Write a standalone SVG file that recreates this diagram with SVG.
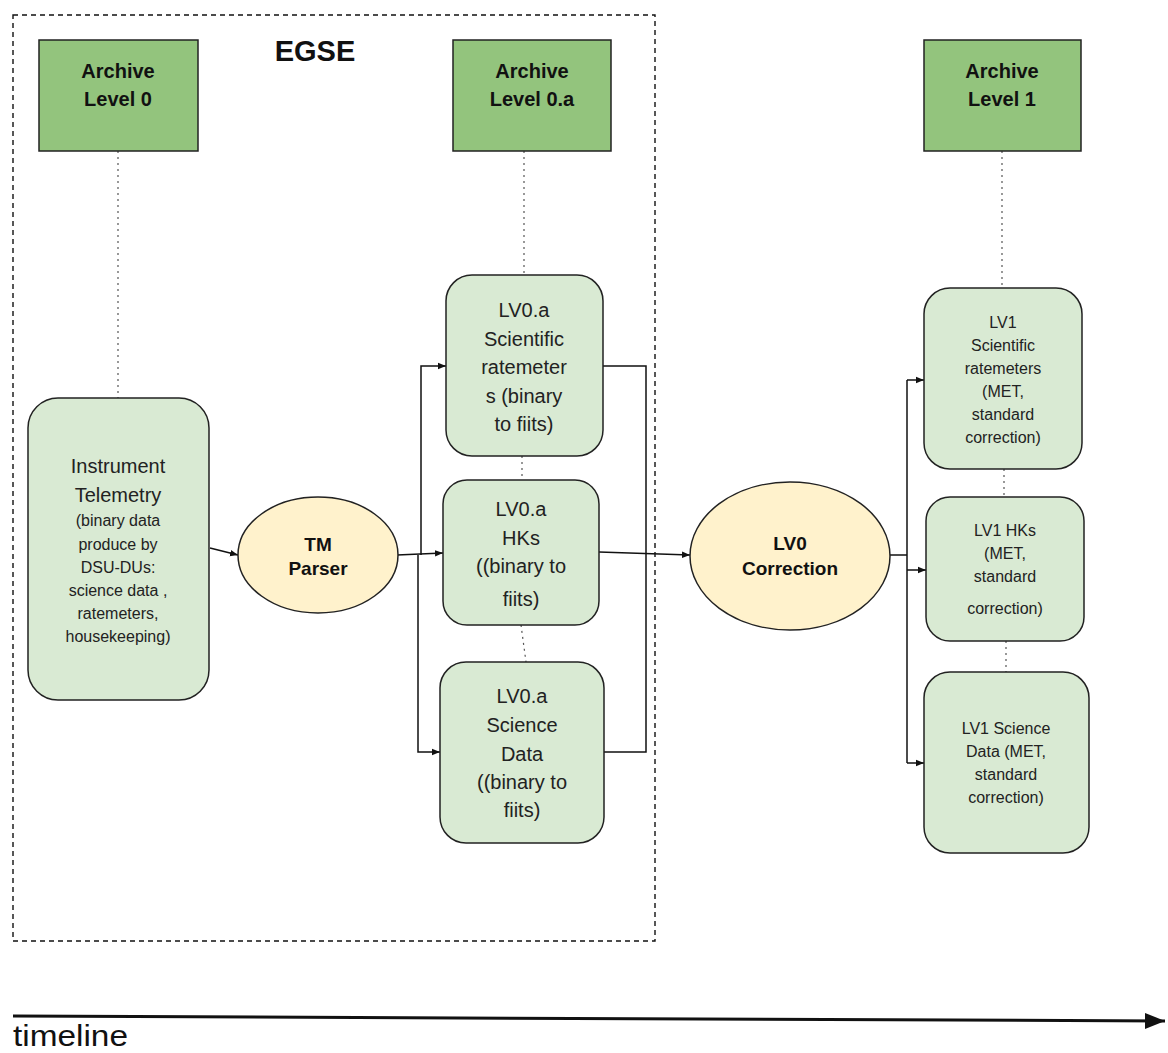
<svg xmlns="http://www.w3.org/2000/svg" width="1168" height="1053" viewBox="0 0 1168 1053">
<style>
text{font-family:"Liberation Sans",Arial,sans-serif;fill:#222;text-anchor:middle}
.arch{fill:#93c47d;stroke:#222;stroke-width:1.5}
.arch-t{font-weight:bold;font-size:20px;fill:#111}
.box{fill:#d9ead3;stroke:#222;stroke-width:1.5}
.proc{fill:#fff2cc;stroke:#222;stroke-width:1.5}
.proc-t{font-weight:bold;font-size:19px;fill:#111}
.big{font-size:20px}
.sm{font-size:16px}
.conn{fill:none;stroke:#111;stroke-width:1.5}
.dot{fill:none;stroke:#555;stroke-width:1.2;stroke-dasharray:2 4}
</style>
<defs>
<marker id="ah" viewBox="0 0 10 10" refX="10" refY="5" markerWidth="8" markerHeight="8" markerUnits="userSpaceOnUse" orient="auto">
<path d="M0,1 L10,5 L0,9 z" fill="#111"/>
</marker>
<marker id="ah2" viewBox="0 0 10 10" refX="10" refY="5" markerWidth="20" markerHeight="20" markerUnits="userSpaceOnUse" orient="auto">
<path d="M0,1 L10,5 L0,9 z" fill="#111"/>
</marker>
</defs>
<rect width="1168" height="1053" fill="#fff"/>

<g id="egse">
<rect x="13" y="15" width="642" height="926" fill="none" stroke="#111" stroke-width="1.4" stroke-dasharray="5 4"/>
<text x="315" y="61" style="font-weight:bold;font-size:29px;fill:#111">EGSE</text>
</g>

<g id="connectors">
<path class="dot" d="M118,151 V398"/>
<path class="dot" d="M524,151 V275"/>
<path class="dot" d="M1002,151 V288"/>
<path class="dot" d="M522,456 V480"/>
<path class="dot" d="M521,625 L526,662"/>
<path class="dot" d="M1004,469 V497"/>
<path class="dot" d="M1006,641 V672"/>
<path class="conn" d="M210,548 L238,555" marker-end="url(#ah)"/>
<path class="conn" d="M397,555 L443,553" marker-end="url(#ah)"/>
<path class="conn" d="M421,555 V366 H446" marker-end="url(#ah)"/>
<path class="conn" d="M418,555 V752 H440" marker-end="url(#ah)"/>
<path class="conn" d="M603,366 H646 V752 H604"/>
<path class="conn" d="M599,552 L690,555" marker-end="url(#ah)"/>
<path class="conn" d="M890,555 H907"/>
<path class="conn" d="M907,380 V763"/>
<path class="conn" d="M907,380 H924" marker-end="url(#ah)"/>
<path class="conn" d="M907,570 H926" marker-end="url(#ah)"/>
<path class="conn" d="M907,763 H924" marker-end="url(#ah)"/>
<path d="M13,1016 L1165,1021" fill="none" stroke="#111" stroke-width="3" marker-end="url(#ah2)"/>
</g>

<g id="archive0">
<rect class="arch" x="39" y="40" width="159" height="111"/>
<text class="arch-t" x="118" y="78">Archive</text>
<text class="arch-t" x="118" y="106">Level 0</text>
</g>
<g id="archive0a">
<rect class="arch" x="453" y="40" width="158" height="111"/>
<text class="arch-t" x="532" y="78">Archive</text>
<text class="arch-t" x="532" y="106">Level 0.a</text>
</g>
<g id="archive1">
<rect class="arch" x="924" y="40" width="157" height="111"/>
<text class="arch-t" x="1002" y="78">Archive</text>
<text class="arch-t" x="1002" y="106">Level 1</text>
</g>

<g id="telemetry">
<rect class="box" x="28" y="398" width="181" height="302" rx="30"/>
<text class="big" x="118" y="473">Instrument</text>
<text class="big" x="118" y="502">Telemetry</text>
<text class="sm" x="118" y="526">(binary data</text>
<text class="sm" x="118" y="550">produce by</text>
<text class="sm" x="118" y="573">DSU-DUs:</text>
<text class="sm" x="118" y="596">science data ,</text>
<text class="sm" x="118" y="619">ratemeters,</text>
<text class="sm" x="118" y="642">housekeeping)</text>
</g>

<g id="tmparser">
<ellipse class="proc" cx="318" cy="555" rx="80" ry="58"/>
<text class="proc-t" x="318" y="551">TM</text>
<text class="proc-t" x="318" y="575">Parser</text>
</g>

<g id="lv0a-rate">
<rect class="box" x="446" y="275" width="157" height="181" rx="26"/>
<text class="big" x="524" y="317">LV0.a</text>
<text class="big" x="524" y="346">Scientific</text>
<text class="big" x="524" y="374">ratemeter</text>
<text class="big" x="524" y="403">s (binary</text>
<text class="big" x="524" y="431">to fiits)</text>
</g>
<g id="lv0a-hk">
<rect class="box" x="443" y="480" width="156" height="145" rx="24"/>
<text class="big" x="521" y="516">LV0.a</text>
<text class="big" x="521" y="545">HKs</text>
<text class="big" x="521" y="573">((binary to</text>
<text class="big" x="521" y="606">fiits)</text>
</g>
<g id="lv0a-sci">
<rect class="box" x="440" y="662" width="164" height="181" rx="26"/>
<text class="big" x="522" y="703">LV0.a</text>
<text class="big" x="522" y="732">Science</text>
<text class="big" x="522" y="761">Data</text>
<text class="big" x="522" y="789">((binary to</text>
<text class="big" x="522" y="817">fiits)</text>
</g>

<g id="lv0corr">
<ellipse class="proc" cx="790" cy="556" rx="100" ry="74"/>
<text class="proc-t" x="790" y="550">LV0</text>
<text class="proc-t" x="790" y="575">Correction</text>
</g>

<g id="lv1-rate">
<rect class="box" x="924" y="288" width="158" height="181" rx="26"/>
<text class="sm" x="1003" y="328">LV1</text>
<text class="sm" x="1003" y="351">Scientific</text>
<text class="sm" x="1003" y="374">ratemeters</text>
<text class="sm" x="1003" y="397">(MET,</text>
<text class="sm" x="1003" y="420">standard</text>
<text class="sm" x="1003" y="443">correction)</text>
</g>
<g id="lv1-hk">
<rect class="box" x="926" y="497" width="158" height="144" rx="24"/>
<text class="sm" x="1005" y="536">LV1 HKs</text>
<text class="sm" x="1005" y="559">(MET,</text>
<text class="sm" x="1005" y="582">standard</text>
<text class="sm" x="1005" y="614">correction)</text>
</g>
<g id="lv1-sci">
<rect class="box" x="924" y="672" width="165" height="181" rx="26"/>
<text class="sm" x="1006" y="734">LV1 Science</text>
<text class="sm" x="1006" y="757">Data (MET,</text>
<text class="sm" x="1006" y="780">standard</text>
<text class="sm" x="1006" y="803">correction)</text>
</g>

<g id="timeline">
<text x="13" y="1046" style="text-anchor:start;font-size:29px;fill:#111" textLength="115" lengthAdjust="spacingAndGlyphs">timeline</text>
</g>
</svg>
